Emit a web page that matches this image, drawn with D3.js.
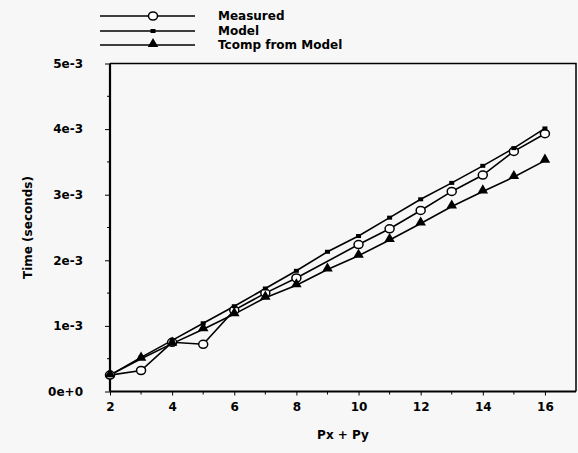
<!DOCTYPE html>
<html><head><meta charset="utf-8">
<script src="https://cdn.jsdelivr.net/npm/d3@7"></script>
<style>
html,body{margin:0;padding:0;background:#f7f7f7;}
svg{display:block;font-family:"DejaVu Sans",sans-serif;font-weight:bold;}
</style></head>
<body><svg id="c" width="578" height="453"></svg>
<script>
const measuredX = [2,3,4,5,6,7,8,10,11,12,13,14,15,16];
const measuredY = [0.25e-3,0.32e-3,0.75e-3,0.72e-3,1.24e-3,1.50e-3,1.73e-3,2.24e-3,2.48e-3,2.76e-3,3.05e-3,3.30e-3,3.66e-3,3.93e-3];
const modelX = [2,3,4,5,6,7,8,9,10,11,12,13,14,15,16];
const modelY = [0.25e-3,0.52e-3,0.78e-3,1.04e-3,1.30e-3,1.57e-3,1.84e-3,2.13e-3,2.37e-3,2.65e-3,2.93e-3,3.18e-3,3.44e-3,3.71e-3,4.01e-3];
const tcompX = [2,3,4,5,6,7,8,9,10,11,12,13,14,15,16];
const tcompY = [0.25e-3,0.50e-3,0.73e-3,0.95e-3,1.18e-3,1.43e-3,1.62e-3,1.86e-3,2.07e-3,2.31e-3,2.56e-3,2.82e-3,3.05e-3,3.27e-3,3.52e-3];
const yTickVals = [0,1e-3,2e-3,3e-3,4e-3,5e-3];
const yTickLabels = ["0e+0","1e-3","2e-3","3e-3","4e-3","5e-3"];
const xTickVals = [2,4,6,8,10,12,14,16];
const legendLabels = ["Measured","Model","Tcomp from Model"];

const svg = d3.select("#c");
const x = d3.scaleLinear().domain([2,17]).range([110,576]);
const y = d3.scaleLinear().domain([0,5e-3]).range([391.5,63.5]);

// frame top/right
svg.append("path").attr("d",`M${x(2)},${y(5e-3)}H${x(17)}V${y(0)}`)
  .attr("fill","none").attr("stroke","#000").attr("stroke-width",1.5);

// y axis
const ya = svg.append("g").attr("transform",`translate(${x(2)},0)`)
  .call(d3.axisLeft(y).tickValues(yTickVals).tickFormat((d,i)=>yTickLabels[i]).tickSize(5).tickPadding(22));
ya.append("g").selectAll("line").data(d3.range(0.5e-3,5e-3,1e-3)).join("line")
  .attr("x1",-3).attr("x2",0).attr("y1",d=>y(d)).attr("y2",d=>y(d)).attr("stroke","#000");
// x axis
const xa = svg.append("g").attr("transform",`translate(0,${y(0)})`)
  .call(d3.axisBottom(x).tickValues(xTickVals).tickFormat(d3.format("d")).tickSize(4).tickPadding(7));
xa.append("g").selectAll("line").data(d3.range(3,17,2)).join("line")
  .attr("x1",d=>x(d)).attr("x2",d=>x(d)).attr("y1",0).attr("y2",3).attr("stroke","#000");
[ya,xa].forEach(a=>{
  a.select(".domain").attr("stroke-width",2.2);
  a.selectAll("text").attr("font-size",12).attr("font-weight","bold").attr("font-family","DejaVu Sans, sans-serif").attr("fill","#000");
});
ya.select(".domain").attr("d",`M0,${y(0)}V${y(5e-3)}`);
xa.select(".domain").attr("d",`M${x(2)},0H${x(17)}`);
ya.selectAll("text").attr("text-anchor","end").attr("x",-27);

// axis titles
svg.append("text").attr("transform",`translate(28,${(y(0)+y(5e-3))/2}) rotate(-90)`)
  .attr("text-anchor","middle").attr("font-size",12).attr("dy","0.35em").text("Time (seconds)");
svg.append("text").attr("x",343).attr("y",439).attr("text-anchor","middle").attr("font-size",12).text("Px + Py");

const line = d3.line().x(d=>x(d[0])).y(d=>y(d[1]));
const series = [
  {xs:measuredX, ys:measuredY, kind:"circle"},
  {xs:modelX, ys:modelY, kind:"dot"},
  {xs:tcompX, ys:tcompY, kind:"tri"}
];
const tri = d3.symbol().type(d3.symbolTriangle).size(48);
function marker(g, kind, cx, cy){
  if(kind==="circle") g.append("ellipse").attr("cx",cx).attr("cy",cy).attr("rx",4.5).attr("ry",4).attr("fill","#fff").attr("stroke","#000").attr("stroke-width",1.5);
  else if(kind==="dot") g.append("rect").attr("x",cx-2.5).attr("y",cy-2).attr("width",5).attr("height",4).attr("fill","#000");
  else g.append("path").attr("d",tri()).attr("transform",`translate(${cx},${cy-1})`).attr("fill","#000");
}
const plot = svg.append("g");
series.forEach(s=>{
  const pts = s.xs.map((v,i)=>[v,s.ys[i]]);
  plot.append("path").attr("d",line(pts)).attr("fill","none").attr("stroke","#000").attr("stroke-width",1.6);
});
series.forEach(s=>{
  s.xs.forEach((v,i)=>marker(plot,s.kind,x(v),y(s.ys[i])));
});

// legend
const leg = svg.append("g");
const rows=[16,31,45];
series.forEach((s,i)=>{
  leg.append("line").attr("x1",100).attr("x2",195).attr("y1",rows[i]).attr("y2",rows[i]).attr("stroke","#000").attr("stroke-width",1.6);
  marker(leg,s.kind,153,rows[i]);
  leg.append("text").attr("x",218).attr("y",rows[i]).attr("dy","0.35em").attr("font-size",12).text(legendLabels[i]);
});
</script></body></html>
